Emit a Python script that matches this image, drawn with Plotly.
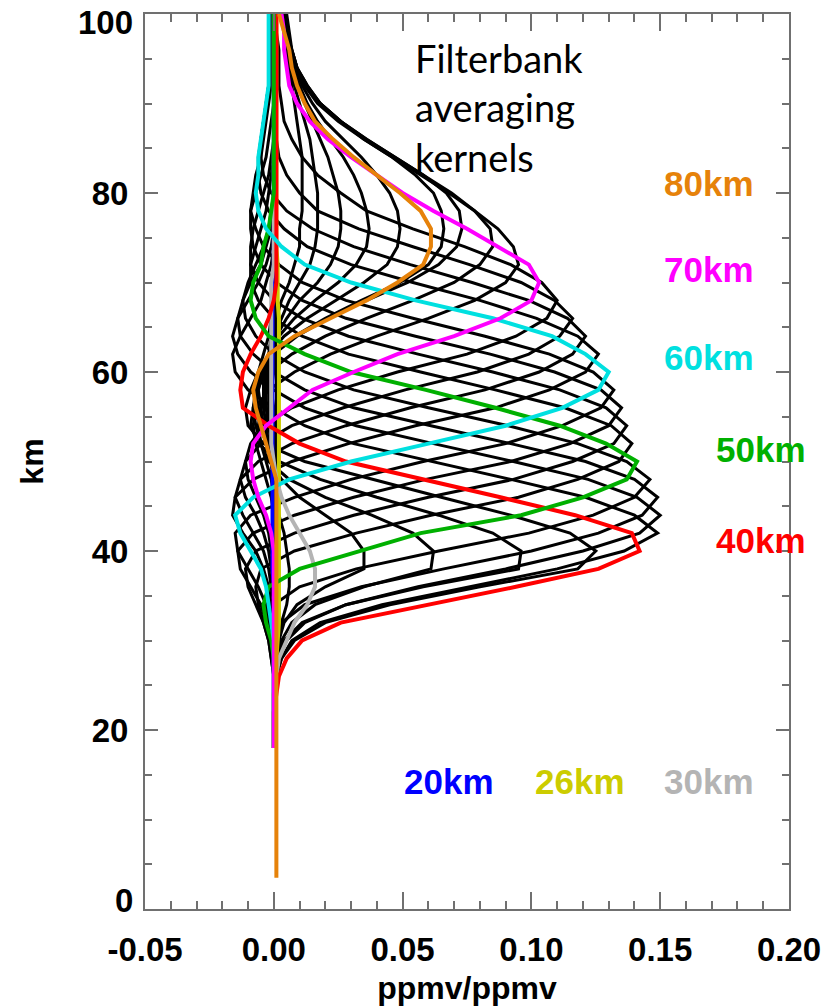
import plotly.graph_objects as go

# Altitude grid of the retrieval (km)
ALT_KM = list(range(18, 101, 2))

# Averaging kernel rows, in units of 0.001 ppmv/ppmv, on ALT_KM.
# Name suffix = nominal altitude of the kernel (km).
AK_20 = [0, 0, 0, 0, 0, 0, 0, 0, 0, 0,
         -0.5, -0.5, -0.5, -0.5, -0.5, -0.5, -0.5, -0.5, -0.5, -0.5,
         -0.5, -0.5, -0.5, -0.5, -0.5, -0.5, -0.5, 0, 0, 0,
         0, 0, 0, 0, 0, 0, 0, 0, 0, 0,
         0, 0]
AK_22 = [0, 0, 0, 0, 0, 0, 0.5, 1, 1, 1,
         1, 1, 1, 1, 1, 1, 1, 1, 1, 1,
         1, 1, 0.5, 0.5, 0.5, 0.5, 0.5, 0, 0, 0,
         0, 0, 0, 0, 0, 0, 0, 0, 0, 0,
         0, 0]
AK_24 = [0, 0, 0, 0, 0.5, 1, 1, 1.5, 1.5, 1.5,
         1.5, 1.5, 1.5, 1.5, 1.5, 1.5, 1.5, 1.5, 1.5, 1.5,
         1.5, 1, 1, 1, 1, 1, 0.5, 0.5, 0.5, 0.5,
         0.5, 0.5, 0, 0, 0, 0, 0, 0, 0, 0,
         0, 0]
AK_26 = [0, 0, 0, 0, 0.5, 1, 1.5, 2, 2, 2,
         2, 2, 2, 2, 2, 2, 2, 2, 2, 2,
         2, 2, 2, 2, 2, 1.5, 1.5, 1.5, 1, 1,
         1, 1, 1, 1, 1, 1, 1, 1, 1, 1,
         1, 1]
AK_28 = [0, 0, 0, 0, 0, 1, 2, 3, 5, 6,
         6, 5, 4, 2, 1, 0, -0.5, -0.5, -0.5, -0.5,
         -0.5, -0.5, -0.5, -0.5, -0.5, -0.5, -0.5, 0, 0, 0,
         0, 0, 0, 0, 0, 0, 0, 0, 0, 0,
         0, 0]
AK_30 = [0, 0, 0, 0, 1, 2, 5, 8, 13, 16,
         16, 14, 10, 6, 3, 1, 0, -1, -1, -1,
         -1, -1, -1, -1, -1, -1, -1, 0, 0, 0,
         0, 0, 0, 0, 0, 0, 0, 0, 0, 0,
         0, 0]
AK_32 = [0, 0, 0, 0, 0, 1, 2, 4, 9, 20,
         35, 35, 30, 20, 10, 3, -1, -3, -3, -2,
         -1, 0, 0, 0, 0, 0, 0, 0, 0, 0,
         0, 0, 0, 0, 0, 0, 0, 0, 0, 0,
         0, 0]
AK_34 = [0, 0, 0, 0, 0, 1, 3, 7, 16, 35,
         61, 62, 54, 38, 20, 6, -2, -5, -6, -5,
         -3, -2, -1, 0, 0, 0, 0, 0, 0, 0,
         0, 0, 0, 0, 0, 0, 0, 0, 0, 0,
         0, 0]
AK_36 = [0, 0, 0, 0, 1, 2, 5, 12, 28, 58,
         95, 96, 85, 64, 40, 18, 2, -6, -9, -8,
         -6, -4, -2, -1, 0, 0, 0, 0, 0, 0,
         0, 0, 0, 0, 0, 0, 0, 0, 0, 0,
         0, 0]
AK_38 = [0, 0, 0, 0, 1, 3, 8, 20, 45, 80,
         118, 125, 115, 92, 65, 38, 12, -4, -10, -11,
         -9, -6, -4, -2, -1, 0, 0, 0, 0, 0,
         0, 0, 0, 0, 0, 0, 0, 0, 0, 0,
         0, 0]
AK_40 = [0, 0, 0, 1, 2, 5, 11, 26, 60, 94,
         126, 142, 139, 117, 88, 58, 28, 10, -2, -12,
         -13, -12, -9, -5, -2, 0, 1, 1, 1, 1,
         1, 1, 1, 1, 1, 1, 1, 1, 1, 1,
         1, 1]
AK_42 = [0, 0, 0, 0, 1, 3, 7, 18, 42, 76,
         110, 136, 149, 140, 121, 92, 61, 31, 12, 0,
         -10, -15, -16, -13, -9, -5, -3, -1, 0, 0,
         0, 0, 0, 0, 0, 0, 0, 0, 0, 0,
         0, 0]
AK_44 = [0, 0, 0, 0, 0, 1, 4, 11, 28, 56,
         90, 120, 142, 150, 141, 122, 93, 62, 32, 12,
         0, -9, -14, -16, -14, -10, -6, -3, -1, 0,
         0, 0, 0, 0, 0, 0, 0, 0, 0, 0,
         0, 0]
AK_46 = [0, 0, 0, 0, 0, 0, 1, 3, 12, 34,
         66, 100, 126, 143, 149, 140, 121, 92, 61, 31,
         12, 0, -8, -13, -14, -12, -9, -5, -3, -1,
         0, 0, 0, 0, 0, 0, 0, 0, 0, 0,
         0, 0]
AK_48 = [0, 0, 0, 0, 0, 0, -1, -2, 0, 10,
         32, 64, 99, 124, 140, 146, 137, 118, 91, 60,
         31, 12, 0, -7, -11, -12, -10, -7, -4, -2,
         -1, 0, 0, 0, 0, 0, 0, 0, 0, 0,
         0, 0]
AK_50 = [0, 0, 0, 0, 0, 0, -1, -3, -4, -2,
         10, 33, 57, 96, 120, 137, 141, 129, 111, 86,
         59, 30, 12, -2, -7, -9, -8, -5, -4, -2,
         -1, 0, 0, 0, 0, 0, 0, 0, 0, 0,
         0, 0]
AK_52 = [0, 0, 0, 0, 0, -1, -2, -4, -6, -7,
         -5, 8, 32, 61, 95, 118, 134, 139, 131, 113,
         86, 57, 29, 11, 0, -6, -9, -9, -7, -5,
         -3, -2, -1, 0, 0, 0, 0, 0, 0, 0,
         0, 0]
AK_54 = [0, 0, 0, 0, 0, -1, -2, -4, -7, -10,
         -11, -7, 8, 31, 60, 93, 116, 132, 137, 129,
         111, 85, 56, 29, 11, 0, -6, -9, -9, -8,
         -6, -4, -2, -1, 0, 0, 0, 0, 0, 0,
         0, 0]
AK_56 = [0, 0, 0, 0, 0, 0, -1, -3, -5, -9,
         -13, -14, -8, 8, 31, 59, 92, 115, 130, 135,
         127, 109, 84, 55, 28, 11, 1, -5, -8, -9,
         -9, -7, -5, -3, -2, -1, 0, 0, 0, 0,
         0, 0]
AK_58 = [0, 0, 0, 0, 0, 0, -1, -2, -3, -6,
         -10, -14, -15, -9, 8, 30, 58, 90, 112, 127,
         132, 124, 107, 82, 54, 28, 11, 2, -4, -7,
         -9, -8, -7, -5, -4, -3, -2, -1, -1, -1,
         0, 0]
AK_60 = [0, 0, 0, 0, 0, 0, 0, -1, -2, -3,
         -5, -9, -13, -15, -8, 6, 30, 60, 90, 112,
         126, 130, 121, 108, 85, 55, 30, 12, 3, -3,
         -6, -7, -6, -6, -5, -4, -3, -2, -2, -2,
         -2, -2]
AK_62 = [0, 0, 0, 0, 0, 0, 0, 0, -1, -2,
         -4, -7, -12, -16, -15, -8, 7, 29, 55, 86,
         107, 121, 126, 118, 102, 80, 54, 30, 13, 4,
         -2, -5, -6, -6, -5, -4, -3, -2, -2, -1,
         -1, -1]
AK_64 = [0, 0, 0, 0, 0, 0, 0, 0, 0, -1,
         -2, -4, -8, -12, -15, -13, -6, 7, 28, 53,
         82, 103, 116, 121, 114, 99, 77, 53, 31, 15,
         5, -1, -4, -5, -5, -4, -3, -2, -2, -1,
         -1, -1]
AK_66 = [0, 0, 0, 0, 0, 0, 0, 0, 0, 0,
         -1, -2, -4, -7, -11, -13, -11, -5, 7, 27,
         51, 79, 99, 111, 116, 109, 96, 76, 54, 33,
         17, 10, 5, 2, 1, 0, 0, 0, 0, 0,
         0, 0]
AK_68 = [0, 0, 0, 0, 0, 0, 0, 0, 0, 0,
         0, -1, -2, -4, -7, -10, -11, -9, -4, 7,
         25, 48, 75, 94, 106, 110, 104, 92, 74, 54,
         36, 26, 17, 11, 7, 4, 3, 2, 2, 2,
         1, 1]
AK_70 = [0, 0, 0, 0, 0, 0, 0, 0, 0, 0,
         0, 0, -1, -3, -6, -8, -9, -8, -3, 6,
         15, 31, 48, 70, 88, 100, 103, 99, 87, 75,
         62, 50, 40, 30, 21, 14, 9, 6, 5, 4,
         4, 3]
AK_72 = [0, 0, 0, 0, 0, 0, 0, 0, 0, 0,
         0, 0, 0, 0, -1, -3, -5, -7, -8, -7,
         -2, 8, 22, 40, 60, 78, 90, 95, 93, 87,
         78, 68, 57, 46, 35, 26, 18, 13, 9, 7,
         6, 5]
AK_74 = [0, 0, 0, 0, 0, 0, 0, 0, 0, 0,
         0, 0, 0, 0, 0, -1, -3, -5, -7, -8,
         -7, -2, 7, 20, 36, 54, 70, 80, 85, 84,
         78, 69, 58, 47, 36, 26, 18, 13, 9, 7,
         5, 4]
AK_76 = [0, 0, 0, 0, 0, 0, 0, 0, 0, 0,
         0, 0, 0, 0, 0, 0, -1, -3, -5, -7,
         -7, -5, 0, 9, 21, 36, 52, 64, 71, 73,
         72, 67, 58, 47, 36, 26, 18, 12, 9, 7,
         5, 4]
AK_78 = [0, 0, 0, 0, 0, 0, 0, 0, 0, 0,
         0, 0, 0, 0, 0, 0, -1, -3, -5, -6,
         -7, -5, 0, 8, 20, 34, 49, 60, 65, 66,
         65, 62, 55, 46, 35, 25, 17, 12, 8, 6,
         5, 4]
AK_80 = [1, 1, 1, 1, 1, 1, 1, 1, 1, 1,
         1, 1, 1, 1, 1, 1, -1, -3, -5, -7,
         -8, -6, -2, 8, 22, 36, 48, 58, 61, 61,
         57, 49, 40, 31, 23, 16, 12, 9, 7, 6,
         4, 2]
AK_82 = [0, 0, 0, 0, 0, 0, 0, 0, 0, 0,
         0, 0, 0, 0, 0, 0, -1, -2, -4, -5,
         -6, -5, -2, 4, 13, 24, 35, 44, 48, 49,
         48, 45, 40, 34, 27, 20, 15, 11, 8, 6,
         4, 3]
AK_84 = [0, 0, 0, 0, 0, 0, 0, 0, 0, 0,
         0, 0, 0, 0, 0, 0, -1, -2, -3, -4,
         -4, -4, -2, 2, 8, 16, 25, 32, 36, 37,
         36, 34, 31, 27, 22, 17, 13, 10, 7, 5,
         4, 3]
AK_86 = [0, 0, 0, 0, 0, 0, 0, 0, 0, 0,
         0, 0, 0, 0, 0, 0, 0, -1, -2, -3,
         -3, -3, -1, 1, 5, 10, 17, 22, 25, 26,
         26, 25, 23, 21, 18, 15, 12, 9, 7, 5,
         4, 3]
AK_88 = [0, 0, 0, 0, 0, 0, 0, 0, 0, 0,
         0, 0, 0, 0, 0, 0, 0, 0, -1, -2,
         -2, -2, -1, 0, 3, 6, 10, 14, 16, 17,
         17, 17, 16, 15, 14, 12, 10, 8, 6, 5,
         4, 3]
AK_90 = [0, 0, 0, 0, 0, 0, 0, 0, 0, 0,
         0, 0, 0, 0, 0, 0, 0, 0, 0, 0,
         -1, -1, -1, 0, 1, 3, 6, 8, 10, 10,
         11, 11, 11, 11, 10, 9, 8, 7, 6, 5,
         4, 3]

# The 80 km kernel is also tabulated further down, where it is flat
AK_80_LOW_KM = [3.5]
AK_80_LOW = [1]

AK_UNIT = 1e-3  # stored values are in 0.001 ppmv/ppmv

BLACK_KERNELS = [AK_22, AK_24, AK_28, AK_32, AK_34, AK_36, AK_38,
                 AK_42, AK_44, AK_46, AK_48, AK_52, AK_54, AK_56, AK_58,
                 AK_62, AK_64, AK_66, AK_68, AK_72, AK_74, AK_76, AK_78,
                 AK_82, AK_84, AK_86, AK_88, AK_90]

# Highlighted kernels: label, colour, values
HIGHLIGHT_LABELS = ["20km", "26km", "30km", "40km", "50km", "60km", "70km", "80km"]
HIGHLIGHT_COLORS = ["#0000FF", "#CCCC00", "#B4B4B4", "#FF0000",
                    "#00B000", "#00E0E0", "#FF00FF", "#E6820A"]
HIGHLIGHT_VALUES = [AK_20, AK_26, AK_30, AK_40, AK_50, AK_60, AK_70, AK_80]

# Label positions (data coordinates)
LABEL_X = [0.068, 0.119, 0.169, 0.189, 0.189, 0.169, 0.169, 0.169]
LABEL_Y = [14.3, 14.3, 14.3, 41.2, 51.3, 61.6, 71.4, 81.1]

X_TICKS = [-0.05, 0.0, 0.05, 0.10, 0.15, 0.20]
X_TICK_TEXT = ["-0.05", "0.00", "0.05", "0.10", "0.15", "0.20"]
Y_TICKS = [0, 20, 40, 60, 80, 100]
# end labels are placed separately so they stay inside the page
Y_TICK_TEXT = ["", "20", "40", "60", "80", ""]
Y_END_LABELS = ["0", "100"]

for row in BLACK_KERNELS + HIGHLIGHT_VALUES:
    assert len(row) == len(ALT_KM)

fig = go.Figure()

for row in BLACK_KERNELS:
    fig.add_trace(go.Scatter(
        x=[v * AK_UNIT for v in row], y=ALT_KM, mode="lines",
        line=dict(color="black", width=3), hoverinfo="skip", showlegend=False))

for label, color, row in zip(HIGHLIGHT_LABELS, HIGHLIGHT_COLORS, HIGHLIGHT_VALUES):
    xs = [v * AK_UNIT for v in row]
    ys = list(ALT_KM)
    if row is AK_80:
        xs = [v * AK_UNIT for v in AK_80_LOW] + xs
        ys = AK_80_LOW_KM + ys
    fig.add_trace(go.Scatter(
        x=xs, y=ys, mode="lines", name=label,
        line=dict(color=color, width=4), showlegend=False))

for label, color, lx, ly in zip(HIGHLIGHT_LABELS, HIGHLIGHT_COLORS, LABEL_X, LABEL_Y):
    fig.add_annotation(
        x=lx, y=ly, xref="x", yref="y", text=label, showarrow=False,
        font=dict(family="Liberation Sans", size=35, color=color, weight="bold"),
        xanchor="center", yanchor="middle")

fig.add_annotation(
    x=0.054, y=89.6, xref="x", yref="y",
    text="Filterbank<br>averaging<br>kernels", showarrow=False, align="left",
    font=dict(family="Lato", size=38, color="black"),
    xanchor="left", yanchor="middle")

AXIS_GRAY = "#707070"
tick_font = dict(family="Liberation Sans", size=33, color="black", weight="bold")
title_font = dict(family="Liberation Sans", size=32, color="black", weight="bold")

# y labels at the two ends of the axis, nudged inward
fig.add_annotation(
    x=0, y=Y_TICKS[0], xref="paper", yref="y", text=Y_END_LABELS[0],
    showarrow=False, font=tick_font, xanchor="right", yanchor="middle",
    xshift=-10, yshift=9)
fig.add_annotation(
    x=0, y=Y_TICKS[-1], xref="paper", yref="y", text=Y_END_LABELS[1],
    showarrow=False, font=tick_font, xanchor="right", yanchor="top",
    xshift=-10, yshift=12)

fig.update_xaxes(
    range=[-0.05, 0.20], tickmode="array", tickvals=X_TICKS, ticktext=X_TICK_TEXT,
    ticks="inside", ticklen=17, tickwidth=1.5, tickcolor=AXIS_GRAY,
    showline=True, linecolor=AXIS_GRAY, linewidth=2, mirror="ticks",
    minor=dict(dtick=0.01, tick0=0, ticks="inside", ticklen=8,
               tickwidth=1.5, tickcolor=AXIS_GRAY),
    showgrid=False, zeroline=False, tickfont=tick_font, automargin=False,
    ticklabelstandoff=10, ticklabeloverflow="allow",
    title=dict(text="ppmv/ppmv", font=title_font, standoff=10))

fig.update_yaxes(
    range=[0, 100], tickmode="array", tickvals=Y_TICKS, ticktext=Y_TICK_TEXT,
    ticks="inside", ticklen=13, tickwidth=1.5, tickcolor=AXIS_GRAY,
    showline=True, linecolor=AXIS_GRAY, linewidth=2, mirror="ticks",
    minor=dict(dtick=5, tick0=0, ticks="inside", ticklen=7,
               tickwidth=1.5, tickcolor=AXIS_GRAY),
    showgrid=False, zeroline=False, tickfont=tick_font, automargin=False,
    ticklabelstandoff=8, ticklabeloverflow="allow",
    title=dict(text="km", font=title_font, standoff=38))

fig.update_layout(
    width=829, height=1008,
    margin=dict(l=145, r=40, t=14, b=99),
    paper_bgcolor="white", plot_bgcolor="white",
    showlegend=False)

fig.write_html("out.html")
